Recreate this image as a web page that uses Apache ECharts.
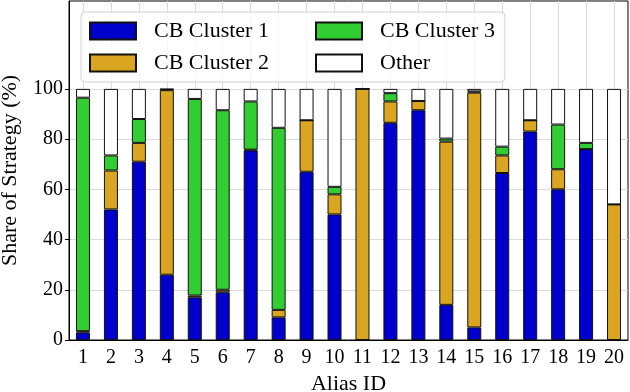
<!DOCTYPE html>
<html>
<head>
<meta charset="utf-8">
<script src="https://cdn.jsdelivr.net/npm/echarts@6/dist/echarts.min.js"></script>
<style>
  html, body { margin: 0; padding: 0; background: #fff; }
  #chart { width: 630px; height: 392px; }
</style>
</head>
<body>
<div id="chart"></div>
<script>
// alias ids on the x axis
const aliasIds = ['1', '2', '3', '4', '5', '6', '7', '8', '9', '10',
    '11', '12', '13', '14', '15', '16', '17', '18', '19', '20'];

// share of strategy per cluster (%)
const cluster1 = [3, 52, 71, 26, 17, 19, 75.5, 9, 67, 50, 0, 86.5, 91.5, 14, 5, 66.5, 83, 60, 76, 0];
const cluster2 = [0.5, 15.5, 7.5, 73.5, 0.7, 1, 0.3, 3, 20.5, 8, 100, 8.5, 3.7, 65, 93.5, 7, 4.5, 8, 0, 54];
const cluster3 = [93, 6, 9.5, 0.3, 78.3, 71.5, 19.2, 72.5, 0, 3, 0, 3.3, 0, 1.2, 0.5, 3.5, 0, 17.8, 2.5, 0];
const other = [3.5, 26.5, 12, 0.2, 4, 8.5, 5, 15.5, 12.5, 39, 0, 1.7, 4.8, 19.8, 1, 23, 12.5, 14.2, 21.5, 46];

const yTicks = [0, 20, 40, 60, 80, 100];

const FONT = '"Liberation Serif", "DejaVu Serif", serif';

const chart = echarts.init(document.getElementById('chart'));

function barSeries(name, data, color) {
    return {
        name: name,
        type: 'bar',
        stack: 'share',
        data: data,
        barWidth: 14,
        itemStyle: {
            color: color,
            borderColor: '#111',
            borderWidth: 1
        }
    };
}

const legendBase = {
    orient: 'vertical',
    top: 12,
    itemWidth: 46,
    itemHeight: 17,
    itemGap: 10,
    icon: 'rect',
    textStyle: {
        fontFamily: FONT,
        fontSize: 22,
        color: '#000',
        padding: [0, 0, 0, 13]
    }
};

chart.setOption({
    animation: false,
    textStyle: { fontFamily: FONT },
    grid: {
        left: 69,
        right: 2,
        top: 1,
        bottom: 52,
        outerBoundsMode: 'none',
        show: true,
        borderColor: '#000',
        borderWidth: 1
    },
    legend: [
        Object.assign({}, legendBase, {
            left: 81,
            z: 3,
            padding: [8, 236, 8, 8],
            data: ['CB Cluster 1', 'CB Cluster 2'],
            borderColor: '#d0d0d0',
            borderWidth: 1,
            borderRadius: 4,
            backgroundColor: 'rgba(255,255,255,0.8)'
        }),
        Object.assign({}, legendBase, {
            left: 307,
            z: 4,
            padding: [8, 8, 8, 8],
            data: ['CB Cluster 3', 'Other']
        })
    ],
    xAxis: {
        type: 'category',
        data: aliasIds,
        name: 'Alias ID',
        nameLocation: 'middle',
        nameGap: 29,
        nameTextStyle: { fontFamily: FONT, fontSize: 22, color: '#000' },
        axisLine: { lineStyle: { color: '#000', width: 1 } },
        axisTick: { alignWithLabel: true, length: 4, lineStyle: { color: '#000' } },
        axisLabel: { fontFamily: FONT, fontSize: 20, color: '#000', margin: 8 },
        splitLine: { show: true, alignWithLabel: true, lineStyle: { color: '#dcdcdc', width: 1 } }
    },
    yAxis: {
        type: 'value',
        min: 0,
        max: 135,
        interval: 20,
        name: 'Share of Strategy (%)',
        nameLocation: 'middle',
        nameGap: 48,
        nameTextStyle: { fontFamily: FONT, fontSize: 22, color: '#000' },
        axisLine: { show: true, lineStyle: { color: '#000', width: 1 } },
        axisTick: { show: true, length: 4, customValues: yTicks, lineStyle: { color: '#000' } },
        axisLabel: { fontFamily: FONT, fontSize: 20, color: '#000', margin: 6, customValues: yTicks },
        splitLine: { show: true, lineStyle: { color: '#dcdcdc', width: 1 } }
    },
    series: [
        barSeries('CB Cluster 1', cluster1, '#0000cd'),
        barSeries('CB Cluster 2', cluster2, '#daa520'),
        barSeries('CB Cluster 3', cluster3, '#32cd32'),
        barSeries('Other', other, '#ffffff')
    ]
});
</script>
</body>
</html>
